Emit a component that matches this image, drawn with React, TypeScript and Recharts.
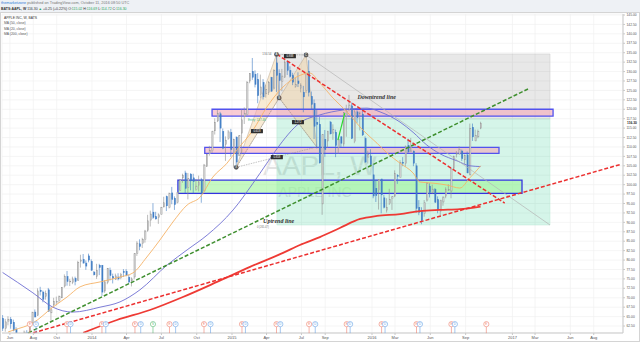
import React from 'react';
import {
  ComposedChart, Bar, Line, XAxis, YAxis, CartesianGrid,
  ReferenceArea, ReferenceLine, ReferenceDot,
} from 'recharts';

// ---------- DATA ----------
// weekly candles: week start, open, high, low, close
const candles: [string, number, number, number, number][] = [
  ['2013-05-13', 64.5, 65.4, 61.2, 61.9], ['2013-05-20', 61.9, 64.4, 61.0, 63.6], ['2013-05-27', 63.8, 65.1, 62.7, 64.2],
  ['2013-06-03', 64.3, 64.9, 61.8, 63.1], ['2013-06-10', 63.5, 64.2, 61.1, 61.4], ['2013-06-17', 61.6, 62.2, 58.3, 59.1],
  ['2013-06-24', 58.9, 59.3, 55.6, 56.6], ['2013-07-01', 57.5, 60.5, 57.3, 59.6], ['2013-07-08', 60.0, 61.3, 59.5, 60.9],
  ['2013-07-15', 60.7, 61.4, 59.5, 60.1], ['2013-07-22', 60.6, 63.6, 59.9, 63.2], ['2013-07-29', 63.4, 66.3, 62.9, 66.1],
  ['2013-08-05', 66.2, 66.9, 64.8, 64.9], ['2013-08-12', 65.3, 72.5, 65.2, 71.8], ['2013-08-19', 72.0, 72.9, 70.6, 71.6],
  ['2013-08-26', 71.5, 71.9, 68.8, 69.6], ['2013-09-02', 70.4, 71.9, 69.5, 71.2], ['2013-09-09', 72.1, 72.6, 66.4, 66.4],
  ['2013-09-16', 66.0, 67.6, 63.9, 66.8], ['2013-09-23', 68.1, 70.0, 67.6, 69.0], ['2013-09-30', 68.7, 70.3, 68.0, 69.0],
  ['2013-10-07', 69.3, 70.6, 68.6, 70.4], ['2013-10-14', 70.0, 72.8, 69.9, 72.7], ['2013-10-21', 73.1, 76.2, 72.7, 75.7],
  ['2013-10-28', 75.6, 77.1, 73.2, 74.3], ['2013-11-04', 74.4, 75.0, 73.1, 74.4], ['2013-11-11', 74.1, 75.6, 73.6, 75.0],
  ['2013-11-18', 75.1, 75.6, 73.3, 74.3], ['2013-11-25', 74.6, 79.8, 74.5, 79.4], ['2013-12-02', 79.7, 81.4, 78.0, 80.0],
  ['2013-12-09', 80.1, 81.6, 79.1, 79.2], ['2013-12-16', 79.2, 79.9, 77.4, 78.4], ['2013-12-23', 81.1, 81.7, 79.4, 80.0],
  ['2013-12-30', 79.6, 80.2, 77.2, 77.3], ['2014-01-06', 76.8, 77.1, 75.9, 76.1], ['2014-01-13', 75.7, 79.0, 75.0, 77.2],
  ['2014-01-20', 78.6, 79.0, 76.0, 78.0], ['2014-01-27', 78.6, 78.7, 70.5, 71.5], ['2014-02-03', 71.8, 74.7, 71.3, 74.2],
  ['2014-02-10', 74.1, 77.9, 73.6, 77.7], ['2014-02-17', 77.3, 78.0, 74.6, 75.9], ['2014-02-24', 75.6, 76.4, 73.8, 75.2],
  ['2014-03-03', 74.8, 76.4, 74.7, 75.8], ['2014-03-10', 75.5, 76.5, 74.6, 75.0], ['2014-03-17', 75.4, 76.6, 74.9, 76.1],
  ['2014-03-24', 76.9, 77.6, 75.5, 76.7], ['2014-03-31', 77.0, 77.6, 75.7, 76.0], ['2014-04-07', 75.4, 76.1, 73.8, 74.2],
  ['2014-04-14', 74.5, 75.4, 73.0, 75.0], ['2014-04-21', 75.5, 81.7, 74.9, 81.7], ['2014-04-28', 81.8, 85.0, 81.1, 84.5],
  ['2014-05-05', 84.3, 85.5, 82.6, 83.6], ['2014-05-12', 84.4, 85.9, 83.2, 85.4], ['2014-05-19', 85.4, 88.0, 84.6, 87.7],
  ['2014-05-26', 87.9, 92.0, 87.5, 90.4], ['2014-06-02', 90.6, 93.1, 88.9, 92.2], ['2014-06-09', 92.7, 95.1, 90.9, 91.3],
  ['2014-06-16', 91.5, 92.8, 90.8, 90.9], ['2014-06-23', 91.3, 92.4, 89.6, 92.0], ['2014-06-30', 92.1, 94.1, 92.1, 94.0],
  ['2014-07-07', 94.1, 96.8, 94.0, 95.2], ['2014-07-14', 96.8, 97.1, 93.0, 94.4], ['2014-07-21', 94.0, 97.9, 93.7, 97.7],
  ['2014-07-28', 97.8, 99.4, 94.8, 96.1], ['2014-08-04', 96.4, 96.9, 93.3, 94.7], ['2014-08-11', 95.3, 98.0, 95.0, 98.0],
  ['2014-08-18', 98.5, 101.5, 98.4, 101.3], ['2014-08-25', 101.8, 102.9, 100.5, 102.5], ['2014-09-01', 103.1, 103.7, 97.8, 99.0],
  ['2014-09-08', 99.3, 103.1, 96.1, 101.7], ['2014-09-15', 102.8, 103.0, 98.5, 101.0], ['2014-09-22', 101.8, 102.9, 97.7, 100.8],
  ['2014-09-29', 98.7, 101.5, 98.4, 99.6], ['2014-10-06', 99.9, 102.4, 98.2, 100.7], ['2014-10-13', 101.3, 101.8, 95.2, 97.7],
  ['2014-10-20', 98.3, 105.5, 98.2, 105.2], ['2014-10-27', 104.9, 108.0, 104.7, 108.0], ['2014-11-03', 108.2, 110.3, 107.7, 109.0],
  ['2014-11-10', 109.0, 114.2, 108.4, 114.2], ['2014-11-17', 114.3, 117.6, 113.3, 116.5], ['2014-11-24', 116.9, 119.8, 116.6, 118.9],
  ['2014-12-01', 118.8, 119.3, 111.3, 115.0], ['2014-12-08', 114.1, 114.9, 109.4, 109.7], ['2014-12-15', 110.7, 112.8, 106.3, 111.8],
  ['2014-12-22', 112.2, 114.5, 111.9, 114.0], ['2014-12-29', 113.8, 114.8, 107.4, 109.3], ['2015-01-05', 108.3, 112.2, 104.7, 112.0],
  ['2015-01-12', 112.6, 112.8, 104.6, 106.0], ['2015-01-19', 107.8, 113.0, 107.6, 113.0], ['2015-01-26', 113.7, 120.0, 108.2, 117.2],
  ['2015-02-02', 118.0, 120.5, 116.1, 118.9], ['2015-02-09', 118.6, 127.5, 118.4, 127.1], ['2015-02-16', 127.5, 129.5, 126.9, 129.5],
  ['2015-02-23', 130.0, 133.6, 127.8, 128.5], ['2015-03-02', 129.3, 130.3, 125.8, 126.6], ['2015-03-09', 127.9, 129.6, 121.6, 123.6],
  ['2015-03-16', 123.9, 129.2, 122.9, 125.9], ['2015-03-23', 127.1, 128.0, 122.6, 123.3], ['2015-03-30', 124.1, 126.5, 123.1, 125.3],
  ['2015-04-06', 124.5, 127.5, 123.8, 127.1], ['2015-04-13', 128.4, 128.6, 124.6, 124.8], ['2015-04-20', 125.6, 130.6, 125.2, 130.3],
  ['2015-04-27', 132.3, 134.5, 124.6, 129.0], ['2015-05-04', 129.5, 130.6, 123.4, 127.6], ['2015-05-11', 127.4, 130.7, 124.8, 128.8],
  ['2015-05-18', 128.4, 133.0, 128.4, 132.5], ['2015-05-25', 132.6, 132.9, 129.1, 130.3], ['2015-06-01', 130.3, 131.4, 128.4, 128.7],
  ['2015-06-08', 128.9, 129.7, 126.4, 127.2], ['2015-06-15', 126.1, 128.3, 125.7, 126.6], ['2015-06-22', 127.5, 129.8, 125.9, 126.8],
  ['2015-06-29', 125.5, 126.9, 124.5, 126.4], ['2015-07-06', 124.5, 126.2, 119.2, 123.3], ['2015-07-13', 125.0, 129.6, 124.3, 129.6],
  ['2015-07-20', 130.0, 133.0, 123.4, 124.5], ['2015-07-27', 123.4, 124.7, 119.8, 121.3], ['2015-08-03', 121.5, 122.6, 112.1, 115.5],
  ['2015-08-10', 116.5, 120.0, 109.6, 116.0], ['2015-08-17', 116.0, 118.0, 105.6, 105.8], ['2015-08-24', 94.9, 113.3, 92.0, 113.3],
  ['2015-08-31', 112.0, 114.5, 107.4, 109.3], ['2015-09-07', 111.6, 114.2, 109.8, 114.2], ['2015-09-14', 116.6, 116.9, 113.3, 113.5],
  ['2015-09-21', 113.7, 116.0, 111.9, 114.7], ['2015-09-28', 113.9, 114.6, 107.3, 110.4], ['2015-10-05', 109.9, 112.3, 108.2, 112.1],
  ['2015-10-12', 112.7, 112.8, 109.8, 111.0], ['2015-10-19', 110.8, 119.2, 110.1, 119.1], ['2015-10-26', 118.1, 121.2, 112.7, 119.5],
  ['2015-11-02', 119.9, 123.8, 119.5, 121.1], ['2015-11-09', 120.9, 121.8, 112.1, 112.3], ['2015-11-16', 111.4, 119.9, 111.0, 119.3],
  ['2015-11-23', 119.3, 119.7, 116.4, 117.8], ['2015-11-30', 118.8, 119.4, 114.4, 119.0], ['2015-12-07', 118.7, 119.9, 112.9, 113.2],
  ['2015-12-14', 112.2, 112.8, 105.8, 106.0], ['2015-12-21', 107.3, 109.0, 105.6, 108.0], ['2015-12-28', 107.6, 109.4, 105.0, 105.3],
  ['2016-01-04', 102.6, 105.4, 96.4, 97.0], ['2016-01-11', 99.0, 101.2, 95.4, 97.1], ['2016-01-18', 98.4, 101.5, 93.4, 101.4],
  ['2016-01-25', 101.5, 101.5, 92.4, 97.3], ['2016-02-01', 96.5, 97.3, 93.7, 94.0], ['2016-02-08', 93.1, 96.4, 92.6, 94.0],
  ['2016-02-15', 95.0, 98.9, 94.6, 96.0], ['2016-02-22', 96.3, 96.9, 93.3, 96.9], ['2016-02-29', 97.0, 103.8, 96.7, 103.0],
  ['2016-03-07', 102.4, 102.8, 100.2, 102.3], ['2016-03-14', 101.9, 106.5, 101.9, 105.9], ['2016-03-21', 105.9, 107.3, 104.9, 105.7],
  ['2016-03-28', 105.6, 110.4, 104.8, 110.0], ['2016-04-04', 110.4, 112.2, 108.4, 108.7], ['2016-04-11', 108.9, 112.4, 108.7, 109.9],
  ['2016-04-18', 108.9, 109.0, 104.9, 105.7], ['2016-04-25', 105.0, 105.7, 92.5, 93.7], ['2016-05-02', 94.0, 95.9, 91.9, 92.7],
  ['2016-05-09', 93.0, 94.0, 89.5, 90.5], ['2016-05-16', 92.4, 95.9, 91.5, 95.2], ['2016-05-23', 95.9, 100.7, 95.5, 100.4],
  ['2016-05-30', 99.6, 100.4, 96.6, 97.9], ['2016-06-06', 98.0, 100.0, 97.6, 98.8], ['2016-06-13', 98.7, 99.1, 95.3, 95.3],
  ['2016-06-20', 96.0, 96.9, 92.4, 93.4], ['2016-06-27', 93.0, 95.8, 91.5, 95.9], ['2016-07-04', 95.4, 96.9, 94.4, 96.7],
  ['2016-07-11', 96.8, 99.3, 96.4, 98.8], ['2016-07-18', 98.7, 100.1, 98.3, 98.7], ['2016-07-25', 98.3, 104.5, 96.4, 104.2],
  ['2016-08-01', 104.4, 107.7, 104.0, 107.5], ['2016-08-08', 108.2, 108.9, 107.2, 108.2], ['2016-08-15', 108.1, 110.2, 108.0, 109.4],
  ['2016-08-22', 108.9, 109.3, 106.3, 106.9], ['2016-08-29', 106.6, 108.0, 105.5, 107.7], ['2016-09-05', 107.9, 108.8, 103.1, 103.1],
  ['2016-09-12', 102.6, 116.2, 102.5, 114.9], ['2016-09-19', 115.2, 116.2, 111.6, 112.7], ['2016-09-26', 111.6, 114.6, 111.6, 113.1],
  ['2016-10-03', 112.7, 114.6, 112.3, 114.1], ['2016-10-10', 115.02, 116.69, 114.72, 116.3],
];

const ma20: [string, number][] = [
  ['2013-05-27', 60.9], ['2013-06-10', 61.4], ['2013-07-31', 63.3], ['2013-09-21', 67.5], ['2013-10-28', 70.2],
  ['2013-12-01', 72.9], ['2014-01-22', 74.2], ['2014-03-15', 75.5], ['2014-04-18', 76.6], ['2014-05-24', 80.8],
  ['2014-06-27', 85.3], ['2014-07-31', 90.1], ['2014-09-06', 94.6], ['2014-10-10', 96.7], ['2014-11-12', 102.0],
  ['2014-12-19', 105.7], ['2015-01-14', 109.2], ['2015-02-25', 114.5], ['2015-04-02', 120.6], ['2015-05-14', 125.9],
  ['2015-06-19', 128.6], ['2015-07-23', 129.6], ['2015-08-18', 127.0], ['2015-09-21', 123.0], ['2015-10-28', 119.3],
  ['2015-12-08', 114.5], ['2016-01-14', 111.0], ['2016-02-09', 108.4], ['2016-03-14', 105.7], ['2016-04-17', 103.1],
  ['2016-05-05', 100.7], ['2016-06-08', 100.4], ['2016-07-14', 99.9], ['2016-08-17', 99.1], ['2016-09-12', 101.8],
  ['2016-10-01', 103.9], ['2016-10-10', 105.0],
];

const ma50: [string, number][] = [
  ['2013-05-13', 76.7], ['2013-07-31', 71.3], ['2013-09-21', 67.5], ['2013-11-12', 66.2], ['2014-01-22', 67.5],
  ['2014-03-15', 68.9], ['2014-05-06', 72.1], ['2014-07-16', 78.7], ['2014-09-06', 82.7], ['2014-10-28', 86.6],
  ['2015-01-04', 93.3], ['2015-02-25', 100.4], ['2015-04-02', 105.7], ['2015-04-28', 109.5], ['2015-06-27', 116.4],
  ['2015-08-18', 118.5], ['2015-10-17', 119.8], ['2015-12-19', 120.3], ['2016-01-22', 119.3], ['2016-03-14', 116.6],
  ['2016-04-17', 113.9], ['2016-05-23', 110.5], ['2016-06-26', 108.2], ['2016-08-10', 106.3], ['2016-09-12', 105.0],
  ['2016-10-10', 104.8],
];

const ma200: [string, number][] = [
  ['2013-12-09', 60.7], ['2014-03-07', 64.1], ['2014-06-01', 66.75], ['2014-08-26', 70.2], ['2014-11-23', 74.2],
  ['2015-02-17', 78.2], ['2015-05-14', 81.9], ['2015-06-27', 84.0], ['2015-08-18', 86.1], ['2015-10-09', 88.5],
  ['2015-12-01', 90.9], ['2016-01-14', 91.7], ['2016-03-14', 92.2], ['2016-05-05', 93.0], ['2016-06-26', 93.3],
  ['2016-08-17', 93.5], ['2016-10-10', 94.2],
];

// drawn trend lines: [date, price] pairs
const upGreen: [string, number][] = [['2013-07-19', 60.7], ['2017-02-15', 125.6]];
const upRed: [string, number][] = [['2013-08-01', 60.7], ['2017-10-11', 105.4]];
const downRed: [string, number][] = [['2015-04-28', 134.6], ['2016-12-12', 95.1]];
const greyDiag: [string, number][] = [['2015-07-13', 134.4], ['2017-04-09', 89.3]];
const greenArrow: [string, number][] = [['2015-10-04', 111.8], ['2015-10-22', 119.0]];

// horizontal zones: start, end, low, high
const topZone: [string, string, number, number] = ['2014-11-10', '2017-04-17', 118.2, 120.0];
const midZone: [string, string, number, number] = ['2014-10-22', '2016-11-27', 108.3, 109.9];
const greenZone: [string, string, number, number] = ['2014-08-13', '2017-01-26', 97.7, 101.2];
// position tool: start, end
const posRange: [string, string] = ['2015-04-28', '2017-04-09'];
const posLevels: [number, number, number] = [134.65, 117.46, 89.3]; // target, entry, stop

// harmonic pattern points
const patX: [string, number] = ['2015-01-12', 104.6];
const patA: [string, number] = ['2015-04-27', 134.54];
const patB: [string, number] = ['2015-05-04', 123.0];
const patC: [string, number] = ['2015-07-13', 134.4];
const patD: [string, number] = ['2015-08-10', 110.0];
const patLabels: [string, number, string][] = [
  ['2015-06-01', 134.1, '0.938'], ['2015-03-07', 114.2, '0.618'], ['2015-06-22', 116.6, '1.272'], ['2015-04-28', 107.3, '0.818'],
];

// earnings / dividends / split markers
const events: [string, string][] = [
  ['2013-07-23', 'E'], ['2013-08-08', 'D'], ['2013-10-28', 'E'], ['2013-11-06', 'D'], ['2014-01-27', 'E'], ['2014-02-06', 'D'],
  ['2014-04-23', 'E'], ['2014-05-08', 'D'], ['2014-06-09', 'S'], ['2014-07-22', 'E'], ['2014-08-07', 'D'], ['2014-10-20', 'E'],
  ['2014-11-06', 'D'], ['2015-01-27', 'E'], ['2015-02-05', 'D'], ['2015-04-27', 'E'], ['2015-05-07', 'D'], ['2015-07-21', 'E'],
  ['2015-08-06', 'D'], ['2015-10-27', 'E'], ['2015-11-05', 'D'], ['2016-01-26', 'E'], ['2016-02-04', 'D'], ['2016-04-26', 'E'],
  ['2016-05-05', 'D'], ['2016-07-26', 'E'], ['2016-08-04', 'D'], ['2016-10-25', 'E'],
];

const timeLabels: [string, string][] = [
  ['2013-06-01', 'Jun'], ['2013-08-01', 'Aug'], ['2013-10-01', 'Oct'], ['2014-01-01', '2014'], ['2014-04-01', 'Apr'],
  ['2014-07-01', 'Jul'], ['2014-10-01', 'Oct'], ['2015-01-01', '2015'], ['2015-04-01', 'Apr'], ['2015-07-01', 'Jul'],
  ['2015-09-01', 'Sep'], ['2016-01-01', '2016'], ['2016-03-01', 'Mar'], ['2016-06-01', 'Jun'], ['2016-09-01', 'Sep'],
  ['2017-01-01', '2017'], ['2017-03-01', 'Mar'], ['2017-06-01', 'Jun'], ['2017-08-01', 'Aug'],
];

const priceTicks = [62.5, 65, 67.5, 70, 72.5, 75, 77.5, 80, 82.5, 85, 87.5, 90, 92.5, 95, 97.5, 100, 102.5, 105,
  107.5, 110, 112.5, 115, 117.5, 120, 122.5, 125, 127.5, 130, 132.5, 135, 137.5, 140, 142.5, 145];
const lastPrice = 116.3;

// ---------- HELPERS ----------
const DAY0 = Date.UTC(2014, 0, 1);
const toDay = (s: string) => {
  const [y, m, d] = s.split('-').map(Number);
  return (Date.UTC(y, m - 1, d) - DAY0) / 86400000;
};
const X_DOMAIN: [number, number] = [-234.6, 1384.3];
const Y_DOMAIN: [number, number] = [60.65, 145.27];
const FONT = "Arial, 'Liberation Sans', sans-serif";

const rows = candles.map(([t, o, h, l, c]) => ({ d: toDay(t), o, h, l, c, hl: [l, h] }));
const lineData = (arr: [string, number][]) => arr.map(([t, v]) => ({ d: toDay(t), v }));
const tickVals = timeLabels.map(([t]) => toDay(t));
const tickName = new Map(timeLabels.map(([t, n]) => [toDay(t), n]));

const CandleShape = (props: any) => {
  const { x, y, width, height } = props;
  const p = props.payload || props;
  if (x == null || y == null || p.h == null) return null;
  const { o, h, l, c } = p;
  const top = Math.min(y, y + height);
  const bot = Math.max(y, y + height);
  const span = h - l || 1;
  const py = (v: number) => top + ((h - v) / span) * (bot - top);
  const up = c >= o;
  const cx = x + width / 2;
  const yo = py(o);
  const yc = py(c);
  const bt = Math.min(yo, yc);
  const bh = Math.max(Math.abs(yo - yc), 0.7);
  const col = up ? '#8e8e8e' : '#3f7cc4';
  return (
    <g>
      <line x1={cx} x2={cx} y1={top} y2={bot} stroke={col} strokeWidth={0.6} />
      <rect x={x + 0.2} y={bt} width={Math.max(width - 0.4, 1)} height={bh}
        fill={up ? '#ffffff' : '#3f7cc4'} stroke={col} strokeWidth={0.5} />
    </g>
  );
};

const seg = (pts: [string, number][]) => pts.map(([t, v]) => ({ x: toDay(t), y: v }));

const polygonArea = (key: string, pts: [string, number][], fill: string) => {
  const ds = pts.map(([t]) => toDay(t));
  const vs = pts.map(([, v]) => v);
  const x1 = Math.min(...ds), x2 = Math.max(...ds), y1 = Math.min(...vs), y2 = Math.max(...vs);
  return (
    <ReferenceArea key={key} x1={x1} x2={x2} y1={y1} y2={y2} ifOverflow="visible"
      shape={(p: any) => {
        const px = (d: number) => p.x + ((d - x1) / (x2 - x1)) * p.width;
        const py = (v: number) => p.y + ((y2 - v) / (y2 - y1)) * p.height;
        const s = pts.map(([t, v]) => `${px(toDay(t))},${py(v)}`).join(' ');
        return <polygon points={s} fill={fill} fillOpacity={0.45} stroke="#b9a58a" strokeWidth={0.5} />;
      }} />
  );
};

const textDot = (key: string, t: string, v: number, content: React.ReactNode) => (
  <ReferenceDot key={key} x={toDay(t)} y={v} r={1} ifOverflow="visible"
    shape={(p: any) => <g transform={`translate(${p.cx},${p.cy})`}>{content}</g>} />
);

const zoneArea = (key: string, z: [string, string, number, number], fill: string, stroke: string) => (
  <ReferenceArea key={key} x1={toDay(z[0])} x2={toDay(z[1])} y1={z[2]} y2={z[3]}
    fill={fill} fillOpacity={0.6} stroke={stroke} strokeWidth={1.3} ifOverflow="visible" />
);

const evColor: Record<string, string> = { E: '#ef7f6f', D: '#6aa3e6', S: '#55b870' };

export default function App() {
  return (
    <div style={{ position: 'absolute', left: 0, top: 0, width: 640, height: 342, background: '#fff', overflow: 'hidden' }}>
      <svg width={640} height={342} style={{ position: 'absolute', left: 0, top: 0 }}>
        <rect x={0} y={0} width={640} height={12.5} fill="#eef1f5" />
        <rect x={0.5} y={12.5} width={639} height={329} fill="#ffffff" stroke="#d4d4d4" strokeWidth={1} />
        <text x={320} y={175} textAnchor="middle" fontFamily={FONT} fontSize={28} fill="#e2e2e2">AAPL, W</text>
        <text x={315} y={197} textAnchor="middle" fontFamily={FONT} fontSize={14} fill="#e2e2e2">APPLE INC</text>
      </svg>
      <div style={{ position: 'absolute', left: 0, top: 0 }}>
        <ComposedChart width={640} height={342} data={rows} margin={{ top: 14, right: 0, bottom: 0, left: 2 }}>
          <CartesianGrid stroke="#f0f0f0" strokeWidth={0.7} />
          <XAxis dataKey="d" type="number" domain={X_DOMAIN} allowDataOverflow ticks={tickVals} interval={0}
            tickFormatter={(v: number) => tickName.get(Math.round(v)) ?? ''} height={9} tickSize={2} tickMargin={1}
            tick={{ fontSize: 4, fill: '#555', fontFamily: FONT }} stroke="#c9c9c9" />
          <YAxis orientation="right" type="number" domain={Y_DOMAIN} allowDataOverflow ticks={priceTicks} interval={0}
            tickFormatter={(v: number) => v.toFixed(2)} width={17} tickSize={2} tickMargin={1.5}
            tick={{ fontSize: 3.3, fill: '#555', fontFamily: FONT }} stroke="#c9c9c9" />

          {/* long position tool */}
          <ReferenceArea x1={toDay(posRange[0])} x2={toDay(posRange[1])} y1={posLevels[1]} y2={posLevels[0]}
            fill="#000000" fillOpacity={0.09} stroke="#c8c8c8" strokeWidth={0.5} ifOverflow="visible" />
          <ReferenceArea x1={toDay(posRange[0])} x2={toDay(posRange[1])} y1={posLevels[2]} y2={posLevels[1]}
            fill="#16c784" fillOpacity={0.18} stroke="#bfe8d6" strokeWidth={0.5} ifOverflow="visible" />

          {/* harmonic pattern */}
          {polygonArea('t1', [patX, patA, patB], '#f2d3a0')}
          {polygonArea('t2', [patB, patC, patD], '#f2d3a0')}

          <Bar dataKey="hl" barSize={2} shape={CandleShape} isAnimationActive={false} />

          <Line data={lineData(ma200)} dataKey="v" type="monotone" stroke="#ee3a34" strokeWidth={1.8} dot={false} activeDot={false} isAnimationActive={false} />
          <Line data={lineData(ma50)} dataKey="v" type="monotone" stroke="#6e6ed2" strokeWidth={0.9} dot={false} activeDot={false} isAnimationActive={false} />
          <Line data={lineData(ma20)} dataKey="v" type="monotone" stroke="#f5b266" strokeWidth={0.9} dot={false} activeDot={false} isAnimationActive={false} />

          <ReferenceLine segment={seg([patX, patB])} stroke="#8a8a8a" strokeWidth={0.5} strokeDasharray="1.5 1" ifOverflow="visible" />
          <ReferenceLine segment={seg([patB, patD])} stroke="#8a8a8a" strokeWidth={0.5} strokeDasharray="1.5 1" ifOverflow="visible" />
          <ReferenceLine segment={seg([patX, patD])} stroke="#8a8a8a" strokeWidth={0.5} strokeDasharray="1.5 1" ifOverflow="visible" />
          <ReferenceLine segment={seg([patA, patC])} stroke="#8a8a8a" strokeWidth={0.5} strokeDasharray="1.5 1" ifOverflow="visible" />
          <ReferenceLine segment={seg(greyDiag)} stroke="#b5b5b5" strokeWidth={0.7} ifOverflow="visible" />

          {zoneArea('mid', midZone, '#f4a9b8', '#5252ee')}
          {zoneArea('green', greenZone, '#9ff59a', '#3434e0')}
          {zoneArea('top', topZone, '#f4a9b8', '#5252ee')}

          <ReferenceLine segment={seg(upGreen)} stroke="#3f8f2f" strokeWidth={1.5} strokeDasharray="4 2" ifOverflow="visible" />
          <ReferenceLine segment={seg(upRed)} stroke="#ec2f2f" strokeWidth={1.5} strokeDasharray="4 2" ifOverflow="visible" />
          <ReferenceLine segment={seg(downRed)} stroke="#ec2f2f" strokeWidth={1.5} strokeDasharray="4 2" ifOverflow="visible" />
          <ReferenceLine segment={seg(greenArrow)} stroke="#2ed82e" strokeWidth={1.2} ifOverflow="visible" />

          {[['X', patX], ['A', patA], ['B', patB], ['C', patC]].map(([n, pt]: any) =>
            textDot('p' + n, pt[0], pt[1], (
              <g>
                <circle r={2.4} fill="#5a5a5a" />
                <text y={1} textAnchor="middle" fontSize={2.8} fill="#fff" fontFamily={FONT}>{n}</text>
              </g>
            )))}
          {patLabels.map(([t, v, s], i) => textDot('lb' + i, t, v, (
            <g>
              <rect x={-6} y={-2.2} width={12} height={4.4} rx={0.6} fill="#2f2f2f" />
              <text y={1} textAnchor="middle" fontSize={2.8} fill="#fff" fontFamily={FONT}>{s}</text>
            </g>
          )))}

          {textDot('dl', '2015-11-24', 122.7, <text fontFamily="'Liberation Serif', 'DejaVu Serif', serif" fontStyle="italic" fontWeight="bold" fontSize={6} fill="#333">Downtrend line</text>)}
          {textDot('ul', '2015-03-23', 89.8, <text fontFamily="'Liberation Serif', 'DejaVu Serif', serif" fontStyle="italic" fontWeight="bold" fontSize={6} fill="#333">Uptrend line</text>)}
          {textDot('ulv', '2015-03-07', 88.6, <text fontFamily={FONT} fontSize={2.6} fill="#777">0 (265.47)</text>)}
          {textDot('pk', '2015-04-14', 134.3, <text textAnchor="end" fontFamily={FONT} fontSize={3} fill="#777">134.54</text>)}
          {textDot('en', '2015-02-12', 117.0, <text fontFamily={FONT} fontSize={3} fill="#3cb88a">Entry: 117.46</text>)}

          {events.map(([t, k], i) => textDot('ev' + i, t, 63.0, (
            <g>
              <line x1={0} x2={0} y1={2.5} y2={9} stroke={evColor[k]} strokeWidth={0.6} />
              <circle r={2.6} fill="#fff" stroke={evColor[k]} strokeWidth={0.6} />
              <text y={1} textAnchor="middle" fontSize={2.9} fill={evColor[k]} fontFamily={FONT}>{k}</text>
            </g>
          )))}

          <ReferenceDot x={X_DOMAIN[1] - 0.5} y={lastPrice} r={1} ifOverflow="visible"
            shape={(p: any) => (
              <g>
                <rect x={624} y={p.cy - 2.3} width={15} height={4.6} fill="#ffffff" />
                <text x={627} y={p.cy + 1.2} fontSize={3.3} fontWeight="bold" fill="#222" fontFamily={FONT}>{lastPrice.toFixed(2)}</text>
              </g>
            )} />
        </ComposedChart>
      </div>
      <svg width={640} height={342} style={{ position: 'absolute', left: 0, top: 0, pointerEvents: 'none' }}>
        <text x={1} y={4.3} fontFamily={FONT} fontSize={3.8}>
          <tspan fill="#2f7ed8">themarketzone</tspan>
          <tspan fill="#777"> published on TradingView.com, October 11, 2016 08:50 UTC</tspan>
        </text>
        <text x={1} y={9.8} fontFamily={FONT} fontSize={3.5} fill="#333">
          <tspan fontWeight="bold">BATS:AAPL, W</tspan>
          <tspan> 116.30 </tspan>
          <tspan fill="#2aa55a">▲</tspan>
          <tspan> +0.25 (+0.22%) O:</tspan>
          <tspan fill="#2aa55a">115.02</tspan>
          <tspan> H:</tspan>
          <tspan fill="#2aa55a">116.69</tspan>
          <tspan> L:</tspan>
          <tspan fill="#2aa55a">114.72</tspan>
          <tspan> C:</tspan>
          <tspan fill="#2aa55a">116.30</tspan>
        </text>
        <g fontFamily={FONT} fontSize={3.4} fill="#555">
          <text x={4} y={18.5} fill="#333">APPLE INC, W, BATS</text>
          <text x={4} y={24}>MA (50, close)</text>
          <text x={4} y={29.5}>MA (20, close)</text>
          <text x={4} y={34.5}>MA (200, close)</text>
        </g>
      </svg>
    </div>
  );
}
